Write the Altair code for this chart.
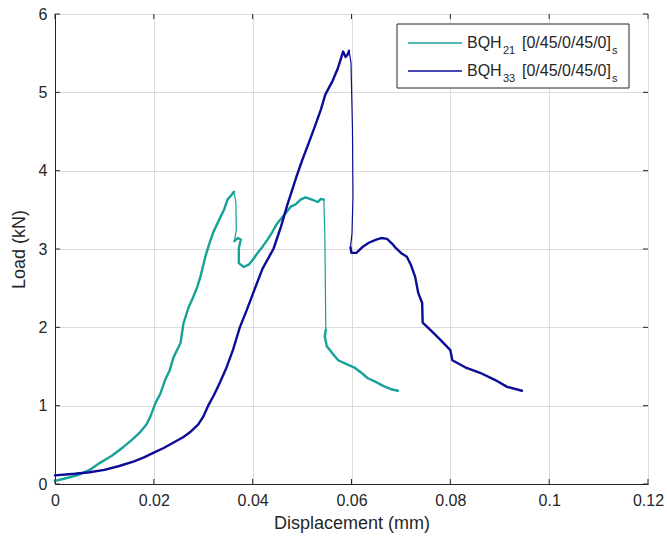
import altair as alt
import pandas as pd

# Load-displacement records of the two specimens
teal_x = [0.0000, 0.0020, 0.0045, 0.0070, 0.0091, 0.0115, 0.0138, 0.0155, 0.0172, 0.0185,
          0.0193, 0.0203, 0.0213, 0.0223, 0.0232, 0.0240, 0.0254, 0.0260, 0.0270, 0.0280,
          0.0288, 0.0294, 0.0305, 0.0313, 0.0320, 0.0335, 0.0342, 0.0349, 0.0356, 0.0362,
          0.0366, 0.0367, 0.0363, 0.0370, 0.0376, 0.0372, 0.0372, 0.0382, 0.0392, 0.0400,
          0.0410, 0.0420, 0.0430, 0.0440, 0.0450, 0.0462, 0.0477, 0.0487, 0.0497, 0.0507,
          0.0520, 0.0532, 0.0538, 0.0544, 0.0546, 0.0547, 0.0548, 0.0546, 0.0550, 0.0560,
          0.0573, 0.0590, 0.0605, 0.0620, 0.0633, 0.0650, 0.0665, 0.0680, 0.0694]
teal_y = [0.04, 0.07, 0.11, 0.18, 0.27, 0.36, 0.47, 0.56, 0.66, 0.76,
          0.86, 1.03, 1.15, 1.33, 1.45, 1.62, 1.80, 2.05, 2.25, 2.39,
          2.52, 2.64, 2.92, 3.08, 3.21, 3.41, 3.50, 3.63, 3.68, 3.73,
          3.60, 3.25, 3.10, 3.14, 3.12, 3.01, 2.82, 2.77, 2.80, 2.86,
          2.95, 3.03, 3.12, 3.22, 3.33, 3.42, 3.54, 3.57, 3.63, 3.66,
          3.63, 3.60, 3.64, 3.63, 3.20, 2.60, 1.97, 1.88, 1.76, 1.68,
          1.58, 1.53, 1.49, 1.42, 1.35, 1.30, 1.25, 1.21, 1.19]

blue_x = [0.0000, 0.0040, 0.0070, 0.0100, 0.0130, 0.0160, 0.0180, 0.0200, 0.0220, 0.0240,
          0.0260, 0.0273, 0.0290, 0.0300, 0.0310, 0.0322, 0.0334, 0.0346, 0.0360, 0.0374,
          0.0388, 0.0400, 0.0420, 0.0442, 0.0457, 0.0470, 0.0489, 0.0500, 0.0512, 0.0525,
          0.0538, 0.0547, 0.0562, 0.0572, 0.0583, 0.0588, 0.0592, 0.0595, 0.0599, 0.0602,
          0.0603, 0.0601, 0.0598, 0.0600, 0.0610, 0.0623, 0.0635, 0.0650, 0.0660, 0.0672,
          0.0682, 0.0690, 0.0700, 0.0712, 0.0720, 0.0729, 0.0735, 0.0743, 0.0744, 0.0759,
          0.0780, 0.0800, 0.0804, 0.0830, 0.0860, 0.0890, 0.0915, 0.0945]
blue_y = [0.11, 0.13, 0.15, 0.18, 0.23, 0.29, 0.34, 0.40, 0.46, 0.53,
          0.60, 0.66, 0.76, 0.86, 1.00, 1.14, 1.30, 1.47, 1.71, 2.00,
          2.22, 2.42, 2.75, 3.00, 3.28, 3.56, 3.93, 4.13, 4.33, 4.55,
          4.78, 4.97, 5.15, 5.30, 5.52, 5.45, 5.48, 5.53, 5.38, 4.52,
          3.67, 3.20, 3.02, 2.95, 2.95, 3.03, 3.08, 3.12, 3.14, 3.13,
          3.07, 3.01, 2.95, 2.90, 2.80, 2.64, 2.44, 2.31, 2.06, 1.97,
          1.84, 1.71, 1.58, 1.49, 1.42, 1.33, 1.24, 1.19]

series_ids = ["BQH21", "BQH33"]
series_colors = ["#17a198", "#0c0c98"]
name_base = "BQH"
name_subs = ["21", "33"]
layup = "[0/45/0/45/0]"
layup_sub = "s"

x_ticks = [0, 0.02, 0.04, 0.06, 0.08, 0.1, 0.12]
y_ticks = [0, 1, 2, 3, 4, 5, 6]

FONT = "Liberation Sans"
W, H = 593, 470
TEXT_COLOR = "#262626"
THICK, THIN = 2.4, 1.2

# Index ranges of the sudden load drops, drawn with a thin stroke
thin_spans = {"BQH21": [(29, 32), (53, 56)], "BQH33": [(37, 42)]}

rows = []
for sid, xs, ys in [(series_ids[0], teal_x, teal_y), (series_ids[1], blue_x, blue_y)]:
    spans = thin_spans[sid]
    bounds = sorted({0, len(xs) - 1, *[a for a, _ in spans], *[b for _, b in spans]})
    for s, (a, b) in enumerate(zip(bounds[:-1], bounds[1:])):
        thin = any(a == lo and b == hi for lo, hi in spans)
        for i in range(a, b + 1):
            rows.append({"series": sid, "seg": f"{sid}-{s}", "i": i,
                         "x": xs[i], "y": ys[i], "w": THIN if thin else THICK})
curves = pd.DataFrame(rows)

color_scale = alt.Scale(domain=series_ids, range=series_colors)
x_scale = alt.Scale(domain=[0, 0.12], nice=False)
y_scale = alt.Scale(domain=[0, 6], nice=False)
# explicit precision keeps "0.12" from being rounded to the tick step
x_axis = alt.Axis(title="Displacement (mm)", values=x_ticks, format=".3~g", labelFlush=False)
y_axis = alt.Axis(title="Load (kN)", values=y_ticks, format=".3~g", labelFlush=False)

lines = alt.Chart(curves).mark_line(strokeJoin="round", strokeCap="round").encode(
    x=alt.X("x:Q", scale=x_scale, axis=x_axis),
    y=alt.Y("y:Q", scale=y_scale, axis=y_axis),
    color=alt.Color("series:N", scale=color_scale, legend=None),
    detail="seg:N",
    strokeWidth=alt.StrokeWidth("w:Q", scale=None),
    order="i:Q",
)

# Inward tick marks on all four sides of the box
xt = pd.DataFrame({"x": x_ticks})
yt = pd.DataFrame({"y": y_ticks})
tick_style = dict(color="#262626", strokeWidth=1)
ticks_bottom = alt.Chart(xt).mark_rule(**tick_style).encode(
    x=alt.X("x:Q", scale=x_scale, axis=x_axis), y=alt.value(H), y2=alt.value(H - 5))
ticks_top = alt.Chart(xt).mark_rule(**tick_style).encode(
    x=alt.X("x:Q", scale=x_scale, axis=x_axis), y=alt.value(0), y2=alt.value(5))
ticks_left = alt.Chart(yt).mark_rule(**tick_style).encode(
    y=alt.Y("y:Q", scale=y_scale, axis=y_axis), x=alt.value(0), x2=alt.value(5))
ticks_right = alt.Chart(yt).mark_rule(**tick_style).encode(
    y=alt.Y("y:Q", scale=y_scale, axis=y_axis), x=alt.value(W), x2=alt.value(W - 5))

# Legend box with subscripted labels
box_x0, box_x1, box_y0, box_y1 = 342, 574, 10, 74
row_y = [29, 57]
one = pd.DataFrame({"k": [0]})
legend_box = alt.Chart(one).mark_rect(fill="white", stroke="#262626", strokeWidth=1).encode(
    x=alt.value(box_x0), x2=alt.value(box_x1), y=alt.value(box_y0), y2=alt.value(box_y1))

legend_layers = [legend_box]
for k in range(2):
    ly = row_y[k]
    legend_layers.append(
        alt.Chart(one).mark_rule(color=series_colors[k], strokeWidth=1.5).encode(
            x=alt.value(353), x2=alt.value(407), y=alt.value(ly)))
    pieces = [
        (name_base, 412, ly + 5, 16),
        (name_subs[k], 448, ly + 11, 11),
        (layup, 467, ly + 5, 16),
        (layup_sub, 557, ly + 11, 11),
    ]
    for txt, px, py, fs in pieces:
        legend_layers.append(
            alt.Chart(one).mark_text(text=txt, align="left", baseline="alphabetic",
                                     font=FONT, fontSize=fs, color=TEXT_COLOR).encode(
                x=alt.value(px), y=alt.value(py)))

chart = alt.layer(
    lines, ticks_bottom, ticks_top, ticks_left, ticks_right, *legend_layers
).properties(
    width=W, height=H,
    autosize=alt.AutoSizeParams(type="none"),
    padding={"left": 55, "top": 14, "right": 19, "bottom": 57},
    background="white",
).configure_view(
    stroke="#262626", strokeWidth=1
).configure_axis(
    labelFont=FONT, titleFont=FONT, labelFontSize=16, titleFontSize=18,
    labelColor=TEXT_COLOR, titleColor=TEXT_COLOR, titleFontWeight="normal",
    domainColor="#262626", tickSize=0, grid=True, gridColor="#dcdcdc", gridWidth=1,
    labelPadding=8,
).configure_axisX(titlePadding=6).configure_axisY(titlePadding=10)

chart.save("out.html", embed_options={"renderer": "svg", "actions": False})
